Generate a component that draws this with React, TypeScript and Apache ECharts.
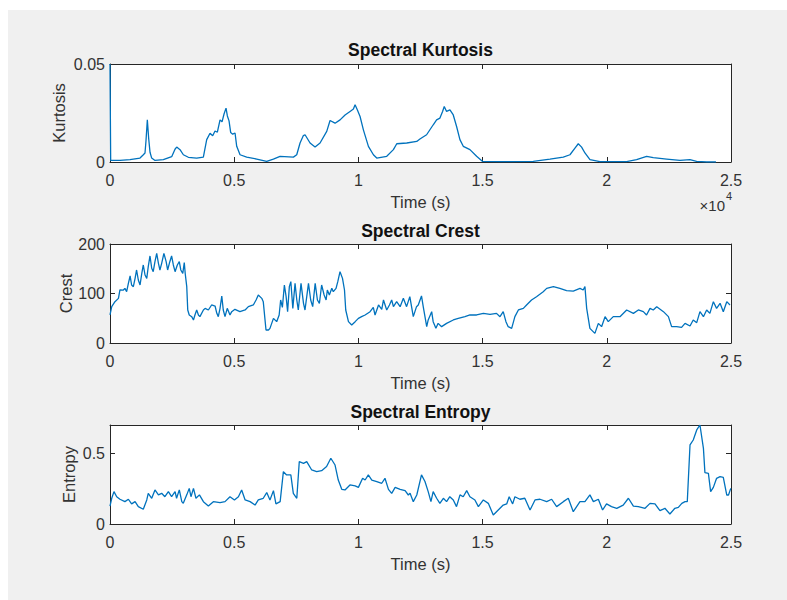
import React, { useEffect, useRef } from "react";
import * as echarts from "echarts";

// ---- Data ----
const kurtTime = [0, 27, 403, 805, 1208, 1342, 1409, 1450, 1503, 1557, 1611, 1678, 1812, 2148, 2483, 2617, 2685, 2819, 2953, 3154, 3490, 3758, 3893, 4027, 4134, 4228, 4322, 4430, 4510, 4591, 4671, 4725, 4792, 4859, 4940, 5034, 5101, 5235, 5503, 5906, 6309, 6577, 6846, 7383, 7517, 7651, 7785, 7852, 8054, 8255, 8456, 8725, 8859, 9060, 9262, 9463, 9664, 9799, 9866, 9960, 10067, 10201, 10403, 10604, 10738, 11141, 11409, 11544, 11946, 12349, 12477, 12745, 13013, 13148, 13282, 13389, 13456, 13550, 13685, 13819, 13953, 14087, 14222, 14490, 14758, 15000, 15698, 17040, 17711, 18248, 18517, 18718, 18852, 18986, 19120, 19322, 19724, 20798, 21200, 21603, 21871, 22408, 22945, 23347, 23616, 24018, 24394];
const kurtValue = [0.05, 0.0008, 0.0008, 0.0012, 0.002, 0.0037, 0.0046, 0.011, 0.0215, 0.012, 0.005, 0.002, 0.0008, 0.0012, 0.0027, 0.0065, 0.0076, 0.0063, 0.0037, 0.0024, 0.002, 0.0025, 0.0114, 0.0147, 0.0134, 0.0158, 0.0152, 0.0215, 0.0205, 0.0245, 0.0275, 0.0235, 0.021, 0.015, 0.0142, 0.0148, 0.008, 0.0037, 0.0025, 0.0015, 0.0003, 0.0015, 0.0029, 0.0025, 0.0037, 0.0097, 0.0135, 0.0139, 0.0097, 0.0076, 0.0097, 0.0156, 0.0212, 0.0198, 0.0215, 0.024, 0.0258, 0.027, 0.0292, 0.0265, 0.0232, 0.0164, 0.008, 0.0037, 0.002, 0.0029, 0.0063, 0.0093, 0.0097, 0.0105, 0.0117, 0.0139, 0.019, 0.0215, 0.0224, 0.0258, 0.0283, 0.0258, 0.0266, 0.024, 0.0181, 0.0114, 0.008, 0.0063, 0.0029, 0.0003, 0.0002, 0.0003, 0.0015, 0.0025, 0.0037, 0.0071, 0.0093, 0.0076, 0.0046, 0.0012, 0.0002, 0.0002, 0.0012, 0.0029, 0.0022, 0.0015, 0.0008, 0.0012, 0.0003, 0.0, 0.0];

const crestTime = [0, 0.007, 0.02, 0.034, 0.04, 0.054, 0.06, 0.067, 0.074, 0.081, 0.087, 0.094, 0.101, 0.107, 0.114, 0.121, 0.128, 0.134, 0.141, 0.148, 0.154, 0.161, 0.168, 0.174, 0.181, 0.188, 0.195, 0.201, 0.208, 0.217, 0.226, 0.232, 0.239, 0.248, 0.255, 0.262, 0.271, 0.279, 0.285, 0.293, 0.299, 0.303, 0.309, 0.313, 0.319, 0.329, 0.336, 0.342, 0.349, 0.356, 0.362, 0.376, 0.383, 0.396, 0.409, 0.423, 0.43, 0.436, 0.443, 0.45, 0.456, 0.463, 0.472, 0.483, 0.49, 0.503, 0.523, 0.544, 0.557, 0.577, 0.588, 0.597, 0.611, 0.617, 0.628, 0.638, 0.644, 0.658, 0.671, 0.681, 0.687, 0.694, 0.702, 0.709, 0.715, 0.722, 0.728, 0.736, 0.745, 0.752, 0.758, 0.769, 0.779, 0.785, 0.799, 0.808, 0.816, 0.826, 0.835, 0.843, 0.852, 0.862, 0.87, 0.875, 0.883, 0.893, 0.899, 0.91, 0.917, 0.926, 0.936, 0.944, 0.949, 0.96, 0.973, 0.987, 1.0, 1.013, 1.027, 1.047, 1.06, 1.067, 1.081, 1.094, 1.101, 1.114, 1.125, 1.134, 1.141, 1.154, 1.168, 1.181, 1.194, 1.207, 1.221, 1.234, 1.241, 1.254, 1.261, 1.268, 1.275, 1.281, 1.295, 1.301, 1.312, 1.321, 1.335, 1.355, 1.382, 1.402, 1.429, 1.449, 1.476, 1.503, 1.53, 1.556, 1.57, 1.583, 1.594, 1.603, 1.617, 1.63, 1.644, 1.664, 1.677, 1.697, 1.717, 1.744, 1.758, 1.785, 1.811, 1.838, 1.865, 1.892, 1.905, 1.912, 1.919, 1.932, 1.952, 1.966, 1.979, 1.993, 2.006, 2.026, 2.053, 2.08, 2.107, 2.127, 2.147, 2.16, 2.174, 2.187, 2.201, 2.228, 2.248, 2.261, 2.281, 2.301, 2.315, 2.335, 2.348, 2.362, 2.375, 2.389, 2.402, 2.415, 2.429, 2.442, 2.456, 2.469, 2.483, 2.496];
const crestValue = [56.6, 73.4, 83.5, 90.2, 107.1, 107, 110.4, 103.7, 120.5, 135.4, 117.2, 113.8, 130.6, 147.5, 127.3, 117.2, 140.7, 157.6, 137.4, 130.6, 154.2, 175.8, 150.8, 144.1, 164.3, 181.1, 161, 147.5, 161, 181.1, 164.3, 147.5, 161, 175.8, 157.6, 144.1, 157.6, 164.3, 147.5, 140.7, 162.3, 139.4, 113.8, 66.7, 56.6, 53.2, 46.5, 56.6, 66.7, 56.6, 53.2, 66.7, 70, 66.7, 76.8, 74.7, 59.9, 53.2, 70, 95, 66.7, 53.2, 70, 56.6, 63.3, 68, 63.3, 66.7, 73.4, 76.8, 86.9, 97, 90.2, 83.5, 26.3, 26.3, 29.6, 49.8, 43.1, 56.6, 86.9, 72, 117.2, 93.6, 63.3, 113.8, 123.9, 70, 120.5, 86.9, 66.7, 120.5, 80.1, 66.7, 120.5, 86.9, 73.4, 120.5, 86.9, 80.1, 117.2, 97, 86.9, 107.1, 97, 110.4, 103.7, 110.4, 123.9, 144.1, 130.6, 107.1, 66.7, 43.1, 36.4, 43.1, 49.8, 53.2, 56.6, 63.3, 72, 56.6, 76.8, 68, 86.9, 66.7, 76.8, 86.9, 73.4, 83.5, 73.4, 90.2, 73.4, 93.6, 53.2, 73.4, 76.8, 95, 73.4, 53.2, 33, 46.5, 63.3, 43.1, 29.6, 39.7, 33, 39.7, 46.5, 49.8, 53.2, 56.6, 56.6, 59.9, 57.9, 59.9, 53.2, 63.3, 43.1, 33, 29.6, 53.2, 66.7, 70, 76.8, 86.9, 93.6, 103.7, 110.4, 113.8, 110.4, 105.7, 105, 110.4, 107.1, 113.8, 70, 29.6, 19.5, 39.7, 33, 53.2, 43.1, 53.2, 53.2, 66.7, 59.9, 66.7, 63.3, 56.6, 70, 66.7, 73.4, 63.3, 53.2, 33, 33, 31.6, 39.7, 34.3, 46.5, 41.1, 63.3, 53.2, 66.7, 59.9, 83.5, 70, 80.1, 63.3, 83.5, 76.8];

const entropyTime = [0, 0.007, 0.016, 0.027, 0.04, 0.06, 0.074, 0.087, 0.101, 0.114, 0.134, 0.148, 0.154, 0.168, 0.181, 0.195, 0.208, 0.221, 0.235, 0.248, 0.262, 0.268, 0.279, 0.289, 0.295, 0.309, 0.319, 0.326, 0.336, 0.346, 0.36, 0.376, 0.396, 0.416, 0.443, 0.463, 0.483, 0.501, 0.517, 0.53, 0.544, 0.564, 0.584, 0.597, 0.617, 0.631, 0.644, 0.658, 0.668, 0.685, 0.698, 0.711, 0.728, 0.738, 0.752, 0.762, 0.779, 0.792, 0.812, 0.832, 0.852, 0.872, 0.889, 0.906, 0.919, 0.933, 0.946, 0.966, 0.987, 1.0, 1.017, 1.027, 1.04, 1.054, 1.074, 1.094, 1.107, 1.121, 1.134, 1.148, 1.168, 1.188, 1.201, 1.208, 1.221, 1.235, 1.254, 1.268, 1.281, 1.292, 1.301, 1.315, 1.328, 1.342, 1.355, 1.368, 1.382, 1.395, 1.409, 1.422, 1.436, 1.449, 1.469, 1.483, 1.503, 1.523, 1.543, 1.563, 1.583, 1.597, 1.607, 1.621, 1.63, 1.65, 1.67, 1.691, 1.711, 1.731, 1.758, 1.778, 1.798, 1.825, 1.845, 1.865, 1.892, 1.912, 1.932, 1.946, 1.966, 1.983, 1.999, 2.019, 2.04, 2.066, 2.087, 2.107, 2.127, 2.154, 2.174, 2.194, 2.214, 2.234, 2.254, 2.274, 2.288, 2.302, 2.315, 2.324, 2.335, 2.348, 2.362, 2.375, 2.389, 2.395, 2.409, 2.418, 2.429, 2.442, 2.456, 2.469, 2.483, 2.49, 2.499];
const entropyValue = [0.127, 0.182, 0.229, 0.193, 0.175, 0.158, 0.175, 0.142, 0.158, 0.123, 0.104, 0.17, 0.217, 0.182, 0.241, 0.206, 0.217, 0.193, 0.229, 0.193, 0.229, 0.182, 0.241, 0.158, 0.146, 0.206, 0.252, 0.193, 0.252, 0.182, 0.206, 0.158, 0.127, 0.158, 0.151, 0.158, 0.193, 0.17, 0.193, 0.241, 0.17, 0.158, 0.134, 0.17, 0.182, 0.222, 0.17, 0.236, 0.142, 0.158, 0.37, 0.347, 0.347, 0.217, 0.182, 0.441, 0.429, 0.441, 0.382, 0.37, 0.377, 0.406, 0.465, 0.417, 0.311, 0.245, 0.241, 0.276, 0.269, 0.259, 0.323, 0.311, 0.347, 0.311, 0.3, 0.288, 0.323, 0.245, 0.217, 0.259, 0.245, 0.236, 0.205, 0.217, 0.158, 0.205, 0.347, 0.3, 0.229, 0.158, 0.229, 0.182, 0.146, 0.182, 0.158, 0.193, 0.17, 0.123, 0.206, 0.193, 0.236, 0.193, 0.17, 0.123, 0.17, 0.146, 0.064, 0.099, 0.134, 0.142, 0.193, 0.142, 0.193, 0.175, 0.182, 0.099, 0.17, 0.175, 0.158, 0.175, 0.123, 0.158, 0.182, 0.087, 0.158, 0.158, 0.206, 0.158, 0.175, 0.099, 0.142, 0.123, 0.111, 0.134, 0.182, 0.127, 0.123, 0.111, 0.146, 0.142, 0.094, 0.111, 0.071, 0.111, 0.118, 0.146, 0.158, 0.158, 0.559, 0.594, 0.665, 0.7, 0.535, 0.363, 0.358, 0.229, 0.259, 0.323, 0.335, 0.33, 0.205, 0.205, 0.252];

const titles = ["Spectral Kurtosis", "Spectral Crest", "Spectral Entropy"];
const yNames = ["Kurtosis", "Crest", "Entropy"];
const xName = "Time (s)";

const FONT = "'Liberation Sans', Arial, Helvetica, sans-serif";
const AX = "#262626";
const LINE = "#0072BD";

function zip(a: number[], b: number[]) {
  return a.map((v, i) => [v, b[i]]);
}

export default function App() {
  const ref = useRef<HTMLDivElement>(null);
  useEffect(() => {
    if (!ref.current) return;
    const chart = echarts.init(ref.current, undefined, { renderer: "svg" });

    const grids = [
      { left: 102, top: 54, width: 621, height: 98 },
      { left: 102, top: 234, width: 621, height: 99 },
      { left: 102, top: 415, width: 621, height: 99 },
    ];
    const xCfg = [
      { min: 0, max: 25000, interval: 5000, fmt: (v: number) => String(v / 10000) },
      { min: 0, max: 2.5, interval: 0.5, fmt: (v: number) => String(v) },
      { min: 0, max: 2.5, interval: 0.5, fmt: (v: number) => String(v) },
    ];
    const yCfg = [
      { min: 0, max: 0.05, interval: 0.05, gap: 43 },
      { min: 0, max: 200, interval: 100, gap: 36 },
      { min: 0, max: 0.7, interval: 0.5, gap: 33 },
    ];
    const seriesData = [
      zip(kurtTime, kurtValue),
      zip(crestTime, crestValue),
      zip(entropyTime, entropyValue),
    ];

    const axisLine = { show: true, onZero: false, lineStyle: { color: AX, width: 1 } };
    const tick = { show: true, inside: true, length: 5, lineStyle: { color: AX, width: 1 } };
    const labelStyle = { color: "#333333", fontSize: 16, fontFamily: FONT };
    const xAxes: any[] = [];
    const yAxes: any[] = [];
    const series: any[] = [];
    grids.forEach((g, i) => {
      const xc = xCfg[i];
      const yc = yCfg[i];
      xAxes.push({
        type: "value", gridIndex: i, position: "bottom",
        min: xc.min, max: xc.max, interval: xc.interval,
        axisLine, axisTick: tick, splitLine: { show: false },
        axisLabel: { ...labelStyle, margin: 10, formatter: xc.fmt },
        name: xName, nameLocation: "middle", nameGap: 31, nameMoveOverlap: false,
        nameTextStyle: { ...labelStyle, fontSize: 16.5 },
      });
      xAxes.push({
        type: "value", gridIndex: i, position: "top",
        min: xc.min, max: xc.max, interval: xc.interval,
        axisLine, axisTick: tick, splitLine: { show: false }, axisLabel: { show: false },
      });
      yAxes.push({
        type: "value", gridIndex: i, position: "left",
        min: yc.min, max: yc.max, interval: yc.interval,
        axisLine, axisTick: tick, splitLine: { show: false },
        axisLabel: { ...labelStyle, margin: 5, showMaxLabel: i !== 2 },
        name: yNames[i], nameLocation: "middle", nameGap: yc.gap, nameRotate: 90,
        nameMoveOverlap: false,
        nameTextStyle: { ...labelStyle, fontSize: 16.5 },
      });
      yAxes.push({
        type: "value", gridIndex: i, position: "right",
        min: yc.min, max: yc.max, interval: yc.interval,
        axisLine, axisTick: tick, splitLine: { show: false }, axisLabel: { show: false },
      });
      series.push({
        type: "line", xAxisIndex: 2 * i, yAxisIndex: 2 * i,
        data: seriesData[i], showSymbol: false, symbol: "none",
        lineStyle: { color: LINE, width: 1.3 }, clip: true,
      });
    });

    const titleY = [40, 221, 402];
    const graphic: any[] = titles.map((t, i) => ({
      type: "text", x: 412.5, y: titleY[i],
      style: {
        text: t, fill: "#111", font: `bold 17.5px ${FONT}`,
        textAlign: "center", textVerticalAlign: "middle",
      },
    }));
    graphic.push({
      type: "text", x: 717, y: 195,
      style: { text: "×10", fill: "#333333", font: `15px ${FONT}`, textAlign: "right", textVerticalAlign: "middle" },
    });
    graphic.push({
      type: "text", x: 718, y: 186,
      style: { text: "4", fill: "#333333", font: `11px ${FONT}`, textAlign: "left", textVerticalAlign: "middle" },
    });

    chart.setOption({
      animation: false,
      backgroundColor: "#f0f0f0",
      grid: grids.map((g) => ({
        ...g, show: true, backgroundColor: "#ffffff", borderWidth: 0,
        containLabel: false, outerBoundsMode: "none",
      })),
      xAxis: xAxes,
      yAxis: yAxes,
      series,
      graphic,
    });
    return () => chart.dispose();
  }, []);

  return (
    <div style={{ position: "absolute", left: 0, top: 0, width: 787, height: 600, background: "#ffffff" }}>
      <div ref={ref} style={{ position: "absolute", left: 8, top: 10, width: 779, height: 590 }} />
    </div>
  );
}
